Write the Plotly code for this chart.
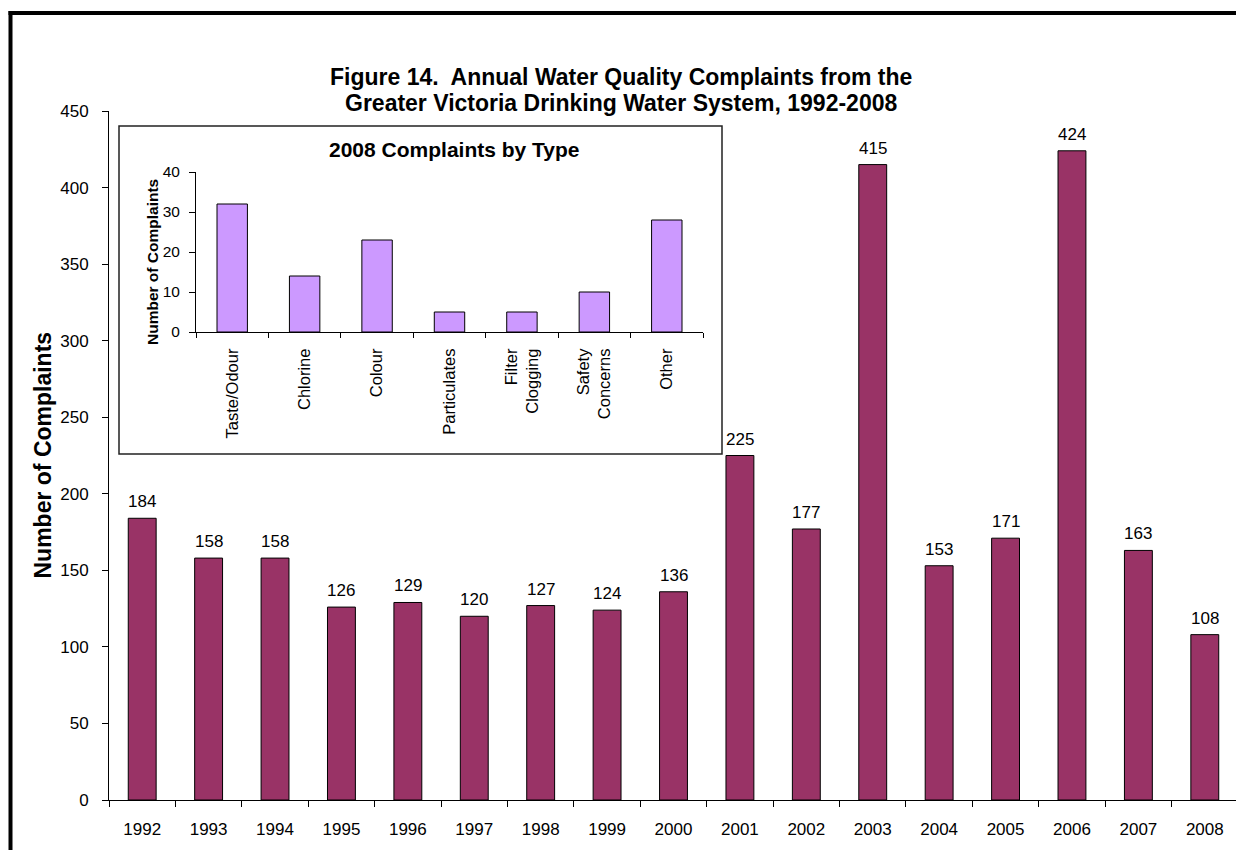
import plotly.graph_objects as go

# ---------------- data ----------------
years = ["1992", "1993", "1994", "1995", "1996", "1997", "1998", "1999", "2000",
         "2001", "2002", "2003", "2004", "2005", "2006", "2007", "2008"]
complaints = [184, 158, 158, 126, 129, 120, 127, 124, 136,
              225, 177, 415, 153, 171, 424, 163, 108]

types_2008 = ["Taste/Odour", "Chlorine", "Colour", "Particulates",
              "Filter<br>Clogging", "Safety<br>Concerns", "Other"]
counts_2008 = [32, 14, 23, 5, 5, 10, 28]

title_lines = ["Figure 14.  Annual Water Quality Complaints from the",
               "Greater Victoria Drinking Water System, 1992-2008"]
y_title = "Number of Complaints"
inset_title = "2008 Complaints by Type"

# ---------------- layout helpers (screen pixel -> paper) ----------------
OFF = 8  # page body margin offset
W, H = 1244 - OFF, 850 - OFF
PL, PR, PT, PB = 109, 1238, 111, 800  # plot area in screen pixels


def px_x(p):
    return (p - PL) / (PR - PL)


def px_y(p):
    return (PB - p) / (PB - PT)


FONT = "Arial, Liberation Sans, sans-serif"

fig = go.Figure()

fig.add_trace(go.Bar(
    x=years, y=complaints,
    marker=dict(color="#993366", line=dict(color="#000000", width=1)),
    xaxis="x", yaxis="y", showlegend=False, hoverinfo="x+y"))

fig.add_trace(go.Bar(
    x=types_2008, y=counts_2008,
    marker=dict(color="#CC99FF", line=dict(color="#000000", width=1)),
    xaxis="x2", yaxis="y2", showlegend=False, hoverinfo="x+y"))

annotations = []
for i, v in enumerate(complaints):
    annotations.append(dict(x=i, y=v, xref="x", yref="y", text=str(v),
                            showarrow=False, yanchor="bottom", yshift=5,
                            font=dict(family=FONT, size=17, color="#000")))

annotations.append(dict(x=px_x(621), y=px_y(77), xref="paper", yref="paper",
                        text="<b>" + title_lines[0] + "</b>", showarrow=False,
                        xanchor="center", yanchor="middle",
                        font=dict(family=FONT, size=23, color="#000")))
annotations.append(dict(x=px_x(621), y=px_y(103), xref="paper", yref="paper",
                        text="<b>" + title_lines[1] + "</b>", showarrow=False,
                        xanchor="center", yanchor="middle",
                        font=dict(family=FONT, size=23, color="#000")))
annotations.append(dict(x=px_x(42), y=0.5, xref="paper", yref="paper",
                        text="<b>" + y_title + "</b>", showarrow=False,
                        textangle=-90, xanchor="center", yanchor="middle",
                        font=dict(family=FONT, size=23, color="#000")))
annotations.append(dict(x=px_x(454), y=px_y(149), xref="paper", yref="paper",
                        text="<b>" + inset_title + "</b>", showarrow=False,
                        xanchor="center", yanchor="middle",
                        font=dict(family=FONT, size=21, color="#000")))
annotations.append(dict(x=px_x(152), y=px_y(262), xref="paper", yref="paper",
                        text="<b>" + y_title + "</b>", showarrow=False,
                        textangle=-90, xanchor="center", yanchor="middle",
                        font=dict(family=FONT, size=15.5, color="#000")))

shapes = [
    # inset frame
    dict(type="rect", xref="paper", yref="paper",
         x0=px_x(119), x1=px_x(722), y0=px_y(454), y1=px_y(126),
         line=dict(color="#222222", width=1.5), fillcolor="white", layer="below"),
    # outer thick border (left and top)
    dict(type="line", xref="paper", yref="paper",
         x0=px_x(10.5), x1=px_x(10.5), y0=px_y(11), y1=px_y(870),
         line=dict(color="#000000", width=4)),
    dict(type="line", xref="paper", yref="paper",
         x0=px_x(8.5), x1=px_x(1260), y0=px_y(13), y1=px_y(13),
         line=dict(color="#000000", width=4)),
]

fig.update_layout(
    width=W, height=H,
    margin=dict(l=PL - OFF, r=(W + OFF) - PR, t=PT - OFF, b=(H + OFF) - PB, pad=0,
                autoexpand=False),
    paper_bgcolor="white", plot_bgcolor="white",
    bargap=0.58,
    font=dict(family=FONT, color="#000"),
    annotations=annotations,
    shapes=shapes,
    xaxis=dict(domain=[0, 1], anchor="y", type="category", range=[-0.5, 16.5],
               showline=True, linecolor="#000", linewidth=1,
               ticks="outside", ticklen=6, tickcolor="#000", tickson="boundaries",
               tickangle=0, automargin=False,
               tickfont=dict(family=FONT, size=17), ticklabelstandoff=14,
               showgrid=False, zeroline=False),
    yaxis=dict(domain=[0, 1], anchor="x", range=[0, 450], dtick=50,
               showline=True, linecolor="#000", linewidth=1,
               ticks="outside", ticklen=6, tickcolor="#000", automargin=False,
               tickfont=dict(family=FONT, size=17), ticklabelstandoff=10,
               showgrid=False, zeroline=False),
    xaxis2=dict(domain=[px_x(196), px_x(703)], anchor="y2", type="category",
                range=[-0.5, 6.5],
                showline=True, linecolor="#000", linewidth=1,
                ticks="outside", ticklen=5, tickcolor="#000", tickson="boundaries",
                tickangle=-90, automargin=False, tickfont=dict(family=FONT, size=16.5),
                ticklabelstandoff=9, showgrid=False, zeroline=False),
    yaxis2=dict(domain=[px_y(332), px_y(172)], anchor="x2", range=[0, 40], dtick=10,
                showline=True, linecolor="#000", linewidth=1,
                ticks="outside", ticklen=6, tickcolor="#000", automargin=False,
                tickfont=dict(family=FONT, size=15.5), ticklabelstandoff=6,
                showgrid=False, zeroline=False),
)

fig.write_html("out.html")
